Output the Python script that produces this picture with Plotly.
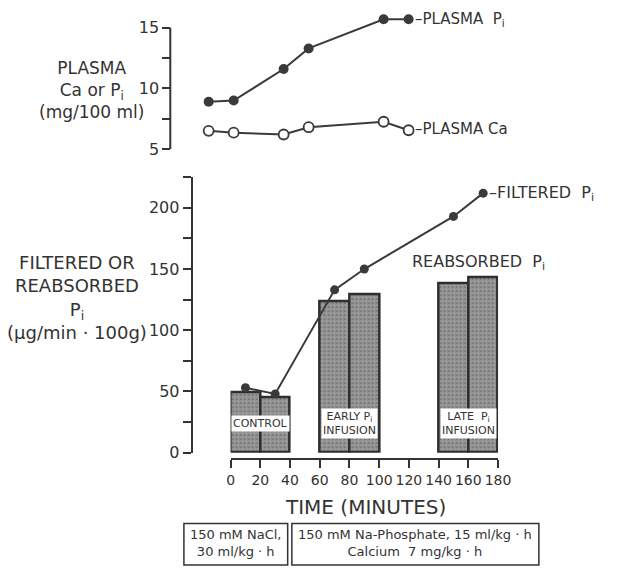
import plotly.graph_objects as go

# ---- data ----
time_min = [10, 30, 70, 90, 150, 170]
plasma_pi = [8.9, 9.0, 11.6, 13.3, 15.7, 15.7]
plasma_ca = [6.5, 6.35, 6.2, 6.8, 7.25, 6.55]
filtered_pi = [53, 48, 133, 150, 193, 212]
reabsorbed_pi = [49.5, 45, 124, 129.5, 138, 143]
x_ticks = [0, 20, 40, 60, 80, 100, 120, 140, 160, 180]
y_bottom_ticks = [0, 25, 50, 75, 100, 125, 150, 175, 200, 225]
y_bottom_labels = ["0", "", "50", "", "100", "", "150", "", "200", ""]
y_top_ticks = [5, 7.5, 10, 12.5, 15]
y_top_labels = ["5", "", "10", "", "15"]

W, H = 618, 572
INK = "#333333"
FONT = "DejaVu Sans"


def px(x):
    return x / W


def py(y):
    return 1 - y / H


fig = go.Figure()

# reabsorbed bars
fig.add_trace(go.Bar(
    x=time_min, y=reabsorbed_pi, width=20,
    marker=dict(color="#8e8e8e",
                line=dict(color="#2e2e2e", width=2.5),
                pattern=dict(shape=".", bgcolor="#9a9a9a", fgcolor="#555555",
                             size=4, solidity=0.35)),
    xaxis="x", yaxis="y", showlegend=False, cliponaxis=False,
))

# filtered Pi line
fig.add_trace(go.Scatter(
    x=time_min, y=filtered_pi, mode="lines+markers",
    line=dict(color="#3a3a3a", width=2),
    marker=dict(color="#3a3a3a", size=9),
    xaxis="x", yaxis="y", showlegend=False, cliponaxis=False,
))

# plasma Pi
fig.add_trace(go.Scatter(
    x=time_min, y=plasma_pi, mode="lines+markers",
    line=dict(color="#3a3a3a", width=2),
    marker=dict(color="#3a3a3a", size=10),
    xaxis="x2", yaxis="y2", showlegend=False, cliponaxis=False,
))

# plasma Ca
fig.add_trace(go.Scatter(
    x=time_min, y=plasma_ca, mode="lines+markers",
    line=dict(color="#3a3a3a", width=2),
    marker=dict(color="white", size=10, line=dict(color="#3a3a3a", width=1.8)),
    xaxis="x2", yaxis="y2", showlegend=False, cliponaxis=False,
))

tickfont = dict(family=FONT, size=16, color=INK)

fig.update_layout(
    width=W, height=H, autosize=False,
    margin=dict(l=0, r=0, t=0, b=0),
    paper_bgcolor="white", plot_bgcolor="rgba(0,0,0,0)",
    bargap=0,
    font=dict(family=FONT, color=INK),
    xaxis=dict(domain=[px(233), px(508)], range=[0, 180],
               anchor="free", position=py(467),
               showline=True, linecolor=INK, linewidth=2,
               ticks="outside", ticklen=8, tickwidth=2, tickcolor=INK,
               tickvals=x_ticks, tickangle=0,
               tickfont=dict(family=FONT, size=14, color=INK),
               showgrid=False, zeroline=False),
    yaxis=dict(domain=[py(460.7), py(180.4)], range=[0, 225],
               anchor="free", position=px(193),
               showline=True, linecolor=INK, linewidth=2,
               ticks="outside", ticklen=8, tickwidth=2, tickcolor=INK,
               tickvals=y_bottom_ticks, ticktext=y_bottom_labels,
               tickfont=tickfont, showgrid=False, zeroline=False),
    xaxis2=dict(domain=[px(197.6), px(428.9)], range=[0, 180],
                anchor="y2", visible=False),
    yaxis2=dict(domain=[py(151.7), py(13.5)], range=[5, 16.2],
                anchor="free", position=px(171),
                showline=False,
                ticks="outside", ticklen=8, tickwidth=2, tickcolor=INK,
                tickvals=y_top_ticks, ticktext=y_top_labels,
                tickfont=tickfont, showgrid=False, zeroline=False),
)

# top-panel axis line (spans 5..15 only)
fig.add_shape(type="line", xref="paper", yref="y2",
              x0=px(171), x1=px(171), y0=5, y1=15,
              line=dict(color=INK, width=2))

ann = []


def note(text, x, y, size, xanchor="center", bg=None, align="center"):
    d = dict(text=text, x=px(x), y=py(y), xref="paper", yref="paper",
             xanchor=xanchor, yanchor="middle", showarrow=False, align=align,
             font=dict(family=FONT, size=size, color=INK))
    if bg:
        d.update(bgcolor=bg, borderpad=1)
    ann.append(d)


note("PLASMA<br>Ca or P<sub>i</sub><br>(mg/100 ml)", 90, 92, 17)
note("FILTERED OR<br>REABSORBED<br>P<sub>i</sub><br>(µg/min · 100g)", 75, 303, 18)
note("–PLASMA  P<sub>i</sub>", 421, 20, 15, xanchor="left")
note("–PLASMA Ca", 421, 131, 15, xanchor="left")
note("–FILTERED  P<sub>i</sub>", 497, 197, 16, xanchor="left")
note("REABSORBED  P<sub>i</sub>", 417, 267, 16, xanchor="left")
note("TIME (MINUTES)", 372, 516, 20)
note("CONTROL", 263.6, 431, 11, bg="white")
note("EARLY P<sub>i</sub><br>INFUSION", 355.4, 431, 11, bg="white")
note("LATE  P<sub>i</sub><br>INFUSION", 477.8, 431, 11, bg="white")
note("150 mM NaCl,<br>30 ml/kg · h", 238.5, 553, 13)
note("150 mM Na-Phosphate, 15 ml/kg · h<br>Calcium  7 mg/kg · h", 423, 553, 13)

fig.update_layout(annotations=ann)

fig.add_shape(type="rect", xref="paper", yref="paper",
              x0=px(185), x1=px(291.7), y0=py(575), y1=py(532.7),
              line=dict(color=INK, width=1.5))
fig.add_shape(type="rect", xref="paper", yref="paper",
              x0=px(296), x1=px(550), y0=py(575), y1=py(532.7),
              line=dict(color=INK, width=1.5))

fig.write_html(
    "out.html",
    config={"responsive": False, "displayModeBar": False},
    post_script="document.body.style.margin='0';document.body.style.overflow='hidden';",
)
